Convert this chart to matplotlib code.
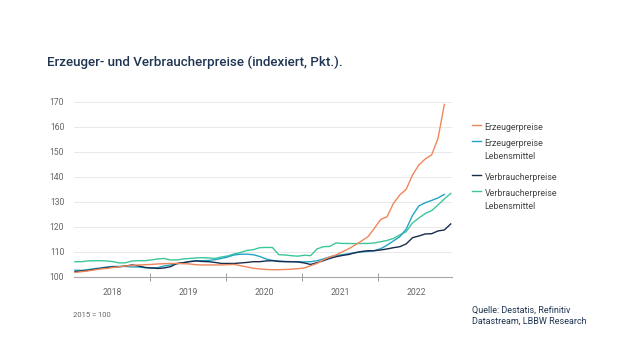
import numpy as np
import matplotlib
matplotlib.use("Agg")
import matplotlib.pyplot as plt
from matplotlib.lines import Line2D

plt.rcParams['font.family'] = ['Roboto', 'DejaVu Sans']

# monthly values, Jan 2018 onwards (2015 = 100)
erzeuger = [101.7, 102.0, 102.3, 102.7, 103.1, 103.3, 103.7, 104.0, 104.3, 104.5, 104.7, 104.8,
            104.9, 105.1, 105.2, 105.3, 105.3, 105.2, 105.1, 104.8, 104.7, 104.7, 104.7, 104.7,
            104.8, 104.9, 104.4, 103.9, 103.4, 103.1, 102.9, 102.8, 102.8, 102.9, 103.0, 103.2,
            103.5, 104.4, 105.3, 106.7, 107.9, 108.7, 110.0, 111.2, 112.7, 114.3, 116.0, 119.3,
            122.9, 124.0, 129.3, 132.7, 134.9, 140.7, 144.7, 147.1, 148.7, 155.3, 168.9]
erzeuger_lm = [102.6, 102.5, 102.8, 103.2, 103.5, 103.9, 104.1, 104.1, 104.1, 103.9, 103.9, 103.6,
               103.5, 103.6, 104.3, 104.7, 105.1, 105.6, 106.1, 106.4, 106.4, 106.5, 106.8, 107.3,
               107.9, 108.7, 109.0, 109.0, 108.8, 108.1, 107.1, 106.5, 106.3, 106.1, 106.0, 106.0,
               105.9, 106.0, 106.4, 107.1, 107.9, 108.5, 108.8, 109.2, 109.6, 109.9, 110.1, 110.4,
               111.2, 112.6, 114.3, 116.0, 119.0, 124.5, 128.3, 129.6, 130.5, 131.5, 132.9]
verbraucher = [102.0, 102.3, 102.5, 102.9, 103.3, 103.6, 103.9, 104.0, 104.3, 104.7, 104.3, 103.7,
               103.5, 103.3, 103.5, 104.0, 105.3, 105.6, 106.0, 106.3, 106.1, 106.0, 105.7, 105.3,
               105.3, 105.3, 105.5, 105.7, 106.0, 106.0, 106.3, 106.4, 106.1, 106.0, 106.0, 105.9,
               105.5, 104.9, 105.6, 106.4, 107.3, 108.0, 108.5, 108.9, 109.6, 110.1, 110.4, 110.4,
               110.7, 111.1, 111.6, 112.0, 113.1, 115.6, 116.3, 117.1, 117.2, 118.3, 118.7, 121.1]
verbraucher_lm = [106.0, 106.0, 106.3, 106.4, 106.4, 106.3, 106.0, 105.5, 105.6, 106.3, 106.4, 106.4,
                  106.7, 107.1, 107.3, 106.7, 106.7, 107.1, 107.3, 107.5, 107.6, 107.5, 107.3, 107.9,
                  108.3, 109.1, 109.7, 110.5, 110.8, 111.6, 111.7, 111.7, 108.8, 108.7, 108.4, 108.2,
                  108.6, 108.4, 111.1, 112.0, 112.1, 113.5, 113.3, 113.3, 113.2, 113.3, 113.3, 113.5,
                  114.0, 114.5, 115.3, 116.7, 118.0, 121.5, 123.5, 125.3, 126.4, 128.7, 131.1, 133.3]
years = ['2018', '2019', '2020', '2021', '2022']
yticks = [100, 110, 120, 130, 140, 150, 160, 170]

labels = ['Erzeugerpreise', 'Erzeugerpreise\nLebensmittel',
          'Verbraucherpreise', 'Verbraucherpreise\nLebensmittel']
colors = ['#f0875a', '#22a3c8', '#1b2b4b', '#3cc79a']
series = [erzeuger, erzeuger_lm, verbraucher, verbraucher_lm]

fig = plt.figure(figsize=(6.4, 3.6), dpi=100)
ax = fig.add_axes([74 / 640, 1 - 276.7 / 360, 378 / 640, 175 / 360])

# draw order: blue/green first, navy and orange on top
for i in [3, 1, 2, 0]:
    ax.plot(np.arange(len(series[i])), series[i], color=colors[i], lw=1.0, zorder=3)

ax.set_xlim(-0.15, 59.2)
ax.set_ylim(100, 170)

ax.set_yticks(yticks)
ax.set_yticklabels([str(v) for v in yticks])
ax.tick_params(axis='y', length=0, pad=7, labelsize=6.2, labelcolor='#666666')
ax.grid(axis='y', color='#e9e9e9', lw=0.7, zorder=0)

bounds = [11.75, 23.7, 35.65, 47.55]
ax.set_xticks(bounds)
ax.set_xticklabels([])
ax.set_xticks([5.85 + 11.93 * k for k in range(5)], minor=True)
ax.set_xticklabels(years, minor=True)
ax.tick_params(axis='x', which='major', direction='inout', length=6, width=0.7, color='#9a9a9a')
ax.tick_params(axis='x', which='minor', length=0, pad=8, labelsize=6.2, labelcolor='#666666')

for s in ['top', 'right', 'left']:
    ax.spines[s].set_visible(False)
ax.spines['bottom'].set_color('#a8a8a8')
ax.spines['bottom'].set_linewidth(0.8)

fig.text(47 / 640, 1 - 62 / 360, 'Erzeuger- und Verbraucherpreise (indexiert, Pkt.).',
         fontsize=9.6, color='#1f3552', fontweight='medium', va='center')

# legend by hand so the line sits on the first text row
rows = [125, 141, 175, 190.7]
for lab, col, yy in zip(labels, colors, rows):
    yf = 1 - yy / 360
    fig.add_artist(Line2D([471.5 / 640, 481 / 640], [yf, yf], color=col, lw=1.0,
                          transform=fig.transFigure))
    fig.text(484.5 / 640, yf + 0.006, lab, fontsize=6.4, color='#444444', va='top',
             linespacing=1.6, transform=fig.transFigure)

fig.text(73 / 640, 1 - 315 / 360, '2015 = 100', fontsize=5.5, color='#666666', va='center')
fig.text(472 / 640, 1 - 306 / 360, 'Quelle: Destatis, Refinitiv\nDatastream, LBBW Research',
         fontsize=6.5, color='#1f3552', va='top', linespacing=1.3)

fig.savefig('out.png', dpi=100, facecolor='white')
